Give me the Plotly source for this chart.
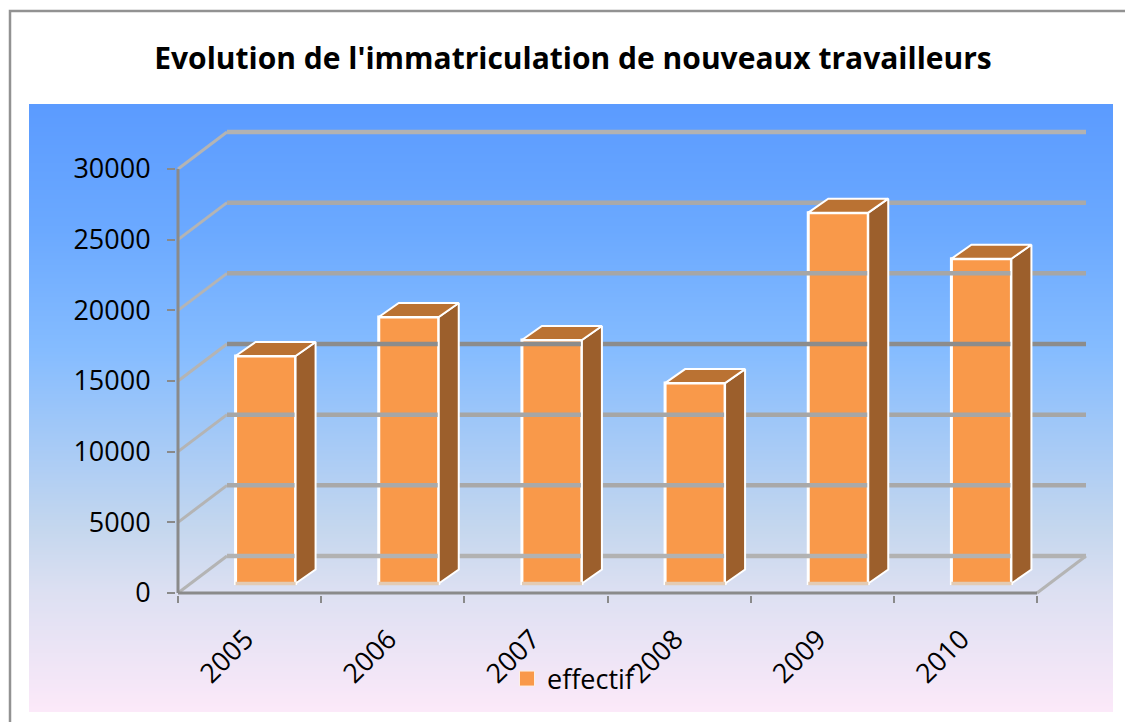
import plotly.graph_objects as go

years = ["2005", "2006", "2007", "2008", "2009", "2010"]
effectif = [16100, 18860, 17230, 14180, 26240, 22980]
y_ticks = [0, 5000, 10000, 15000, 20000, 25000, 30000]
title = "Evolution de l'immatriculation de nouveaux travailleurs"
series_name = "effectif"

W, H = 1125, 722
# front plane of the floor, in page pixels
FX0, FX1, FY0, FY1 = 178, 1037, 593, 169
# subplot box, slightly larger than the floor and wall so the 3D walls are not cut
BOX_L, BOX_R, BOX_B, BOX_T = 176, 1092, 595, 128
PX_X = (FX1 - FX0) / 6
PX_Y = (FY0 - FY1) / 30000
X_RANGE = [-(FX0 - BOX_L) / PX_X, 6 + (BOX_R - FX1) / PX_X]
Y_RANGE = [-(BOX_B - FY0) / PX_Y, 30000 + (FY1 - BOX_T) / PX_Y]
# depth expressed in axis units
DX, DY = 49 / PX_X, 37 / PX_Y
BAR_W, BAR_SHIFT = 60 / PX_X, 16 / PX_X
BASE = 9.5 / PX_Y
SX, SY = 20 / PX_X, 14 / PX_Y
LABEL_SHIFT = 4 / PX_X

AXIS = "#8A8A8A"
GRID = ["#B2B2B2", "#A9A9A9", "#A6A6A6", "#8C8C8C", "#A6A6A6", "#A9A9A9", "#B2B2B2"]
DIAG = "#B4B4B4"
FRONT, SIDE, TOP = "#F9994A", "#9C5F2C", "#BA7233"
FONT = "Open Sans"

gradient = [[0, "#FCE9F9"], [0.196, "#DDE0F2"], [0.30, "#C5D7EE"],
            [0.595, "#85BCFF"], [0.793, "#6BA9FF"], [1, "#5B9BFF"]]

def wall_line(xs, ys, color, width):
    fig.add_trace(go.Scatter(x=xs, y=ys, mode="lines", line=dict(color=color, width=width),
                             hoverinfo="skip", showlegend=False, xaxis="x2", yaxis="y2"))

fig = go.Figure()
fig.add_trace(go.Heatmap(x=[0, 1], y=[0, 1], z=[[0, 0], [1, 1]], zmin=0, zmax=1,
                         colorscale=gradient, zsmooth="best", showscale=False,
                         hoverinfo="skip", xaxis="x", yaxis="y"))

# back wall and side wall lines
for v, grid_col in zip(y_ticks, GRID):
    wall_line([0, DX], [v, v + DY], DIAG, 3)
    wall_line([DX, 6 + DX], [v + DY, v + DY], grid_col, 4.5)
wall_line([6, 6 + DX], [0, DY], DIAG, 3)
# front axis lines
wall_line([0, 0], [0, 30000], AXIS, 3)
wall_line([0, 6], [0, 0], AXIS, 3)

# box sides and tops
centers = [i + 0.5 + BAR_SHIFT for i in range(len(years))]
side_x, side_y, top_x, top_y = [], [], [], []
for c, v in zip(centers, effectif):
    l, r, t = c - BAR_W / 2, c + BAR_W / 2, v + BASE
    side_x += [r, r + SX, r + SX, r, r, None]
    side_y += [BASE, BASE + SY, t + SY, t, BASE, None]
    top_x += [l, l + SX, r + SX, r, l, None]
    top_y += [t, t + SY, t + SY, t, t, None]
for xs, ys, col in [(side_x, side_y, SIDE), (top_x, top_y, TOP)]:
    fig.add_trace(go.Scatter(x=xs, y=ys, mode="lines", fill="toself", fillcolor=col,
                             line=dict(color="white", width=2),
                             hoverinfo="skip", showlegend=False, xaxis="x2", yaxis="y2"))

# box fronts
fig.add_trace(go.Bar(x=centers, y=effectif, base=BASE, width=BAR_W, name=series_name,
                     marker=dict(color=FRONT, line=dict(color="white", width=3)),
                     showlegend=False, xaxis="x2", yaxis="y2"))

# peach lower edge of the box fronts
edge_x, edge_y = [], []
for c in centers:
    edge_x += [c - BAR_W / 2, c + BAR_W / 2, None]
    edge_y += [BASE, BASE, None]
wall_line(edge_x, edge_y, "#E3CBB4", 3.5)

# legend entry with the larger square key of the original
fig.add_trace(go.Scatter(x=[None], y=[None], mode="markers", name=series_name,
                         marker=dict(symbol="square", size=15, color=FRONT,
                                     line=dict(color="#FDEFE2", width=1)),
                         showlegend=True, xaxis="x2", yaxis="y2"))

# tick marks on the slot edges
fig.add_trace(go.Scatter(x=list(range(7)), y=[0] * 7, mode="markers", marker=dict(opacity=0),
                         hoverinfo="skip", showlegend=False, xaxis="x3", yaxis="y2"))

def frac_x(px):
    return px / W

def frac_y(px):
    return 1 - px / H

fig.update_layout(
    width=W, height=H, autosize=False,
    margin=dict(l=0, r=0, t=0, b=0, pad=0, autoexpand=False),
    paper_bgcolor="white", plot_bgcolor="rgba(0,0,0,0)",
    font=dict(family=FONT, color="black", size=27),
    barmode="overlay",
    title=dict(text="<b>%s</b>" % title, x=frac_x(573), y=frac_y(58), xanchor="center",
               yanchor="middle", xref="paper", yref="paper",
               font=dict(family=FONT, size=30, color="black")),
    xaxis=dict(domain=[frac_x(29), frac_x(1113)], range=[0, 1], visible=False, fixedrange=True),
    yaxis=dict(domain=[frac_y(712), frac_y(104)], range=[0, 1], visible=False, fixedrange=True),
    xaxis2=dict(domain=[frac_x(BOX_L), frac_x(BOX_R)], range=X_RANGE, anchor="y2",
                tickmode="array", tickvals=[i + 0.5 - LABEL_SHIFT for i in range(6)], ticktext=years,
                tickangle=-45, ticks="", ticklabelstandoff=22, showgrid=False, zeroline=False,
                showline=False, tickfont=dict(size=27)),
    xaxis3=dict(domain=[frac_x(BOX_L), frac_x(BOX_R)], range=X_RANGE, anchor="y2",
                tickmode="array", tickvals=list(range(7)), ticks="outside", ticklen=7,
                tickwidth=2, tickcolor=AXIS, showticklabels=False, showgrid=False,
                zeroline=False, showline=False),
    yaxis2=dict(domain=[frac_y(BOX_B), frac_y(BOX_T)], range=Y_RANGE, anchor="x2",
                tickmode="array", tickvals=y_ticks, ticktext=[str(v) for v in y_ticks],
                ticks="outside", ticklen=8, tickwidth=2, tickcolor=AXIS, ticklabelstandoff=11,
                showgrid=False, zeroline=False, showline=False,
                tickfont=dict(size=27)),
    legend=dict(x=frac_x(507), y=frac_y(679), xanchor="left", yanchor="middle",
                bgcolor="rgba(0,0,0,0)", font=dict(size=27), itemwidth=30),
    shapes=[dict(type="path", xref="paper", yref="paper",
                 path="M %f,%f L %f,%f L %f,%f" % (frac_x(10), frac_y(722), frac_x(10), frac_y(11),
                                                   frac_x(1125), frac_y(11)),
                 line=dict(color="#929292", width=2.5))],
)

fig.write_html("out.html", post_script="document.body.style.margin='0';",
               config={"displayModeBar": False})
